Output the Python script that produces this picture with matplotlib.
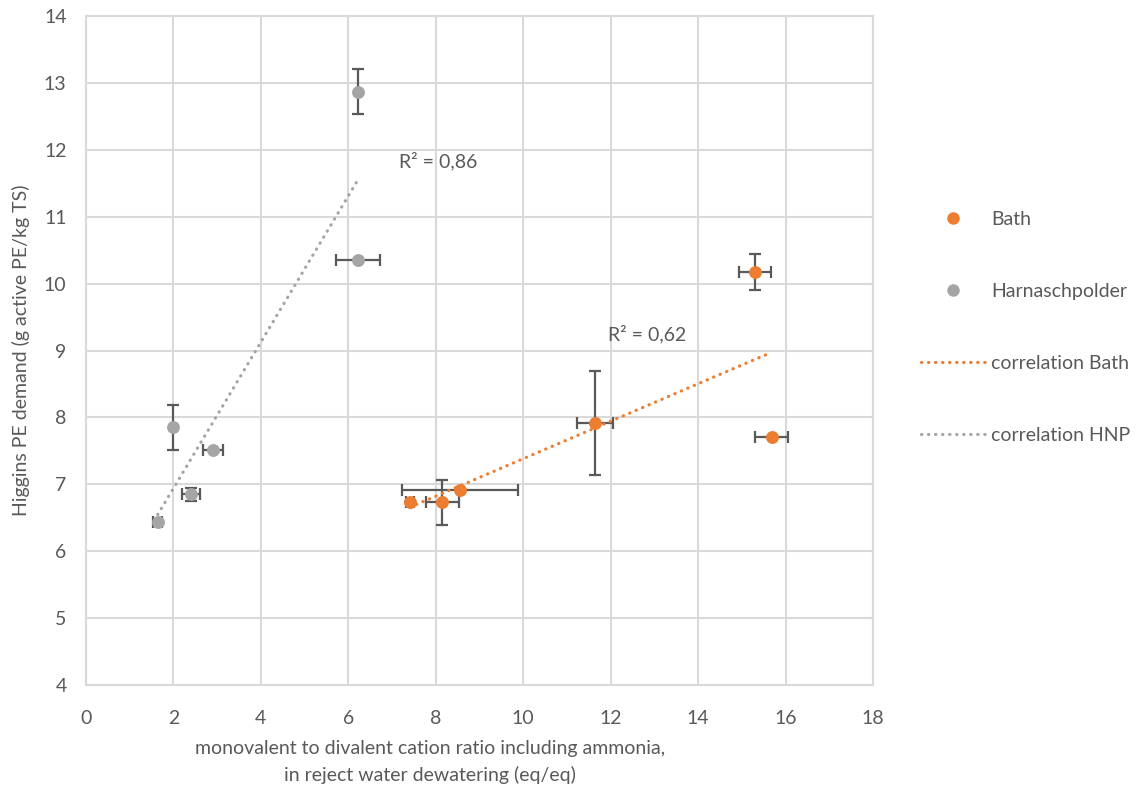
import numpy as np
import matplotlib
matplotlib.use("Agg")
import matplotlib.pyplot as plt
from matplotlib.lines import Line2D

# ---- data ----
bath_x = [7.41, 8.15, 8.55, 11.64, 15.3, 15.68]
bath_y = [6.73, 6.73, 6.92, 7.92, 10.17, 7.71]
bath_xerr = [0.1, 0.37, 1.32, 0.41, 0.36, 0.38]
bath_yerr = [0.0, 0.34, 0.0, 0.78, 0.27, 0.0]

hnp_x = [1.64, 2.0, 2.4, 2.9, 6.22, 6.22]
hnp_y = [6.44, 7.85, 6.85, 7.52, 12.87, 10.36]
hnp_xerr = [0.1, 0.0, 0.2, 0.23, 0.0, 0.5]
hnp_yerr = [0.0, 0.34, 0.1, 0.0, 0.34, 0.0]

r2_bath = "R² = 0,62"
r2_hnp = "R² = 0,86"

xticks = list(range(0, 19, 2))
yticks = list(range(4, 15, 1))

legend_labels = ["Bath", "Harnaschpolder", "correlation Bath", "correlation HNP"]
x_label = "monovalent to divalent cation ratio including ammonia,\nin reject water dewatering (eq/eq)"
y_label = "Higgins PE demand (g active PE/kg TS)"

# ---- style ----
ORANGE = "#ED7D31"
GRAY = "#A5A5A5"
ERR = "#595959"
GRID = "#D9D9D9"
TXT = "#595959"
plt.rcParams['font.family'] = ['Lato', 'DejaVu Sans']

fig = plt.figure(figsize=(11.46, 7.98), dpi=100)
ax = fig.add_axes([86/1146, 1-685/798, (873-86)/1146, (685-16)/798])

ax.set_xlim(0, 18)
ax.set_ylim(4, 14)
ax.set_xticks(xticks)
ax.set_yticks(yticks)
ax.grid(True, color=GRID, linewidth=1.5, zorder=0)
ax.set_axisbelow(True)
for s in ax.spines.values():
    s.set_color(GRID)
    s.set_linewidth(1.5)
ax.tick_params(length=0, labelsize=14, labelcolor=TXT, pad=14)
ax.tick_params(axis='x', pad=18)

for xs, ys, xe, ye, col in [(bath_x, bath_y, bath_xerr, bath_yerr, ORANGE),
                            (hnp_x, hnp_y, hnp_xerr, hnp_yerr, GRAY)]:
    ax.errorbar(xs, ys, xerr=xe, yerr=ye, fmt='none', ecolor=ERR,
                elinewidth=1.6, capsize=4.5, capthick=1.6, zorder=2)
    ax.plot(xs, ys, 'o', color=col, markersize=9.3, zorder=3, markeredgewidth=0)

# trendlines (least squares)
for xs, ys, col in [(bath_x, bath_y, ORANGE), (hnp_x, hnp_y, GRAY)]:
    p = np.polyfit(xs, ys, 1)
    xx = np.array([min(xs), max(xs)])
    ax.plot(xx, np.polyval(p, xx), color=col, linewidth=2.3,
            dashes=(0.1, 2.1), dash_capstyle='round', zorder=4)

ax.text(11.95, 9.25, r2_bath, fontsize=14, color=TXT, ha='left', va='center')
ax.text(7.15, 11.83, r2_hnp, fontsize=14, color=TXT, ha='left', va='center')

ax.set_ylabel(y_label, fontsize=14, color=TXT, labelpad=10)
fig.text(430/1146, 1-762/798, x_label, fontsize=14, color=TXT,
         ha='center', va='center', linespacing=1.55)

handles = [
    Line2D([], [], linestyle='none', marker='o', color=ORANGE, markersize=9, markeredgewidth=0),
    Line2D([], [], linestyle='none', marker='o', color=GRAY, markersize=9, markeredgewidth=0),
    Line2D([], [], color=ORANGE, linewidth=2.3, dashes=(0.1, 2.1), dash_capstyle='round'),
    Line2D([], [], color=GRAY, linewidth=2.3, dashes=(0.1, 2.1), dash_capstyle='round'),
]
leg = fig.legend(handles, legend_labels, loc='upper left',
                 bbox_to_anchor=(913/1146, 1-203/798), frameon=False,
                 fontsize=14, labelcolor=TXT, labelspacing=2.83,
                 handlelength=3.3, handletextpad=0.3, borderaxespad=0)

fig.savefig("out.png", dpi=100)
